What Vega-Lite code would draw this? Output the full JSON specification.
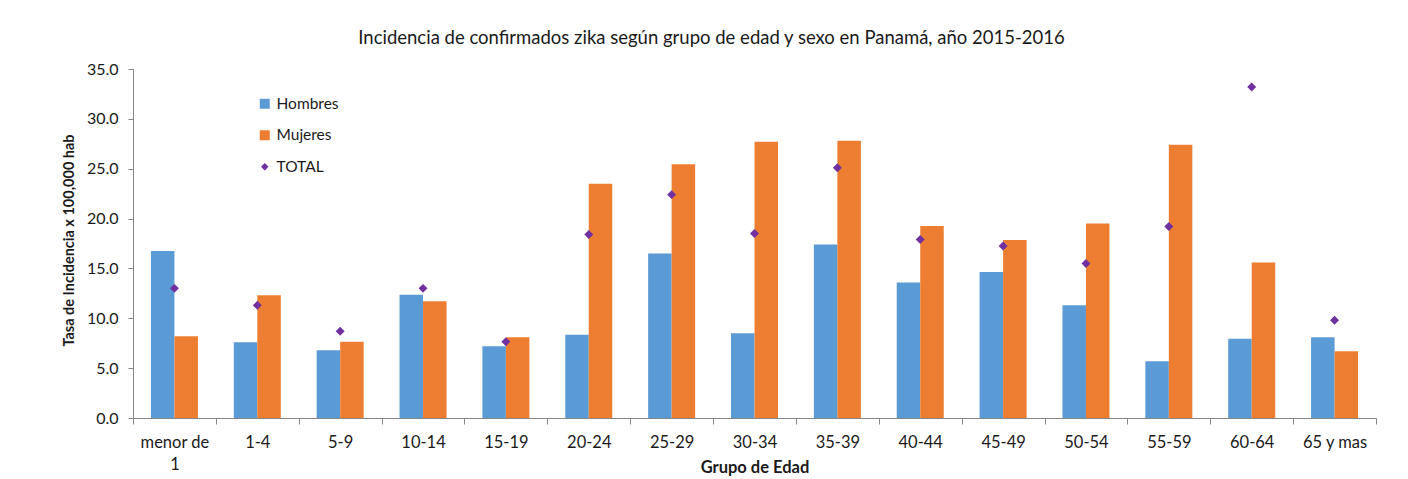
{
  "$schema": "https://vega.github.io/schema/vega-lite/v6.json",
  "width": 1243,
  "height": 349,
  "autosize": {"type": "none"},
  "padding": {"left": 133, "top": 69, "right": 32, "bottom": 61},
  "background": "white",
  "config": {
    "font": "Lato",
    "view": {"stroke": null},
    "text": {"font": "Lato"}
  },
  "title": {
    "text": "Incidencia de confirmados zika según grupo de edad y sexo en Panamá, año 2015-2016",
    "fontSize": 18.5,
    "font": "Lato",
    "fontWeight": "normal",
    "color": "#1a1a1a",
    "anchor": "middle",
    "offset": 14,
    "dx": -43
  },
  "data": {
    "values": [
      {"grupo": "menor de 1", "serie": "Hombres", "valor": 16.75},
      {"grupo": "menor de 1", "serie": "Mujeres", "valor": 8.2},
      {"grupo": "menor de 1", "serie": "TOTAL", "valor": 13.0},
      {"grupo": "1-4", "serie": "Hombres", "valor": 7.6},
      {"grupo": "1-4", "serie": "Mujeres", "valor": 12.3},
      {"grupo": "1-4", "serie": "TOTAL", "valor": 11.3},
      {"grupo": "5-9", "serie": "Hombres", "valor": 6.8},
      {"grupo": "5-9", "serie": "Mujeres", "valor": 7.65},
      {"grupo": "5-9", "serie": "TOTAL", "valor": 8.7},
      {"grupo": "10-14", "serie": "Hombres", "valor": 12.35},
      {"grupo": "10-14", "serie": "Mujeres", "valor": 11.7},
      {"grupo": "10-14", "serie": "TOTAL", "valor": 13.0},
      {"grupo": "15-19", "serie": "Hombres", "valor": 7.2},
      {"grupo": "15-19", "serie": "Mujeres", "valor": 8.1},
      {"grupo": "15-19", "serie": "TOTAL", "valor": 7.65},
      {"grupo": "20-24", "serie": "Hombres", "valor": 8.35},
      {"grupo": "20-24", "serie": "Mujeres", "valor": 23.5},
      {"grupo": "20-24", "serie": "TOTAL", "valor": 18.4},
      {"grupo": "25-29", "serie": "Hombres", "valor": 16.5},
      {"grupo": "25-29", "serie": "Mujeres", "valor": 25.45},
      {"grupo": "25-29", "serie": "TOTAL", "valor": 22.4},
      {"grupo": "30-34", "serie": "Hombres", "valor": 8.5},
      {"grupo": "30-34", "serie": "Mujeres", "valor": 27.7},
      {"grupo": "30-34", "serie": "TOTAL", "valor": 18.5},
      {"grupo": "35-39", "serie": "Hombres", "valor": 17.4},
      {"grupo": "35-39", "serie": "Mujeres", "valor": 27.8},
      {"grupo": "35-39", "serie": "TOTAL", "valor": 25.1},
      {"grupo": "40-44", "serie": "Hombres", "valor": 13.6},
      {"grupo": "40-44", "serie": "Mujeres", "valor": 19.25},
      {"grupo": "40-44", "serie": "TOTAL", "valor": 17.9},
      {"grupo": "45-49", "serie": "Hombres", "valor": 14.65},
      {"grupo": "45-49", "serie": "Mujeres", "valor": 17.85},
      {"grupo": "45-49", "serie": "TOTAL", "valor": 17.25},
      {"grupo": "50-54", "serie": "Hombres", "valor": 11.3},
      {"grupo": "50-54", "serie": "Mujeres", "valor": 19.5},
      {"grupo": "50-54", "serie": "TOTAL", "valor": 15.5},
      {"grupo": "55-59", "serie": "Hombres", "valor": 5.7},
      {"grupo": "55-59", "serie": "Mujeres", "valor": 27.4},
      {"grupo": "55-59", "serie": "TOTAL", "valor": 19.2},
      {"grupo": "60-64", "serie": "Hombres", "valor": 7.95},
      {"grupo": "60-64", "serie": "Mujeres", "valor": 15.6},
      {"grupo": "60-64", "serie": "TOTAL", "valor": 33.2},
      {"grupo": "65 y mas", "serie": "Hombres", "valor": 8.1},
      {"grupo": "65 y mas", "serie": "Mujeres", "valor": 6.7},
      {"grupo": "65 y mas", "serie": "TOTAL", "valor": 9.8}
    ]
  },
  "encoding": {
    "x": {
      "field": "grupo",
      "type": "nominal",
      "sort": ["menor de 1", "1-4", "5-9", "10-14", "15-19", "20-24", "25-29", "30-34", "35-39", "40-44", "45-49", "50-54", "55-59", "60-64", "65 y mas"],
      "scale": {"paddingInner": 0, "paddingOuter": 0},
      "axis": {
        "title": "Grupo de Edad",
        "titleFontSize": 16.5,
        "titleFontWeight": "bold",
        "titleColor": "#1a1a1a",
        "titleFont": "Lato",
        "titleY": 49,
        "titleBaseline": "middle",
        "labelAngle": 0,
        "labelFontSize": 16.5,
        "labelFont": "Lato",
        "labelColor": "#1a1a1a",
        "labelPadding": 10,
        "labelLineHeight": 22,
        "labelExpr": "datum.label === 'menor de 1' ? ['menor de', '1'] : datum.label",
        "tickBand": "extent",
        "tickSize": 6,
        "tickColor": "#868686",
        "domainColor": "#868686",
        "grid": false
      }
    },
    "y": {
      "field": "valor",
      "type": "quantitative",
      "scale": {"domain": [0, 35], "nice": false},
      "axis": {
        "title": "Tasa de Incidencia x 100,000 hab",
        "titleFontSize": 14.5,
        "titleFontWeight": "bold",
        "titleColor": "#1a1a1a",
        "titleFont": "Lato",
        "titleX": -64,
        "titleY": 171,
        "titleAngle": -90,
        "titleAlign": "center",
        "titleBaseline": "middle",
        "values": [0, 5, 10, 15, 20, 25, 30, 35],
        "format": ".1f",
        "labelFontSize": 16,
        "labelFont": "Lato",
        "labelColor": "#1a1a1a",
        "labelPadding": 10,
        "tickSize": 5,
        "tickColor": "#868686",
        "domainColor": "#868686",
        "grid": false
      }
    },
    "color": {
      "field": "serie",
      "type": "nominal",
      "scale": {"domain": ["Hombres", "Mujeres", "TOTAL"], "range": ["#5B9BD5", "#ED7D31", "#7030A0"]},
      "legend": {
        "title": null,
        "orient": "none",
        "legendX": 124,
        "legendY": 27,
        "labelFontSize": 15.5,
        "labelFont": "Lato",
        "labelColor": "#1a1a1a",
        "labelOffset": 4,
        "rowPadding": 14.5,
        "symbolStrokeWidth": 0,
        "encode": {
          "symbols": {
            "update": {
              "shape": {"signal": "datum.value === 'TOTAL' ? 'diamond' : 'square'"},
              "size": {"signal": "datum.value === 'TOTAL' ? 55 : 100"},
              "strokeWidth": {"value": 0}
            }
          }
        }
      }
    }
  },
  "layer": [
    {
      "transform": [{"filter": "datum.serie !== 'TOTAL'"}],
      "mark": {"type": "bar"},
      "encoding": {
        "xOffset": {
          "field": "serie",
          "type": "nominal",
          "scale": {"paddingInner": 0, "paddingOuter": 0.763}
        }
      }
    },
    {
      "transform": [{"filter": "datum.serie === 'TOTAL'"}],
      "mark": {"type": "point", "shape": "diamond", "filled": true, "size": 80, "opacity": 1}
    },
    {
      "data": {"values": [{"nota": "N:550"}]},
      "mark": {"type": "text", "fontSize": 13, "font": "Lato", "color": "#1a1a1a", "dx": 15},
      "encoding": {
        "x": {"datum": "65 y mas"},
        "y": {"datum": 27.9},
        "text": {"field": "nota"},
        "color": null
      }
    }
  ]
}
